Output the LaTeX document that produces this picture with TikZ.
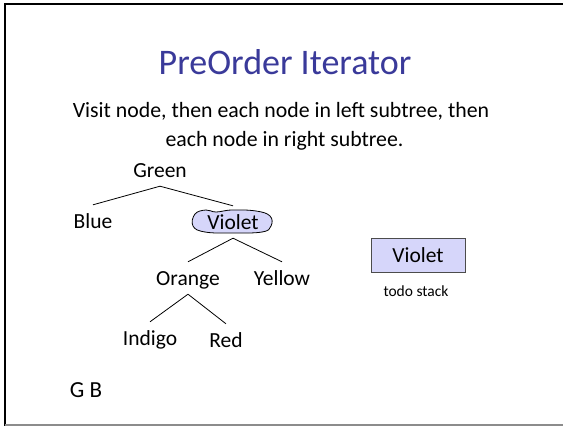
\documentclass[tikz,border=0pt]{standalone}
\usepackage{fontspec}
\setmainfont{Carlito}
\definecolor{titleblue}{RGB}{58,58,154}
\definecolor{boxfill}{RGB}{214,214,250}
\begin{document}
\begin{tikzpicture}[x=1pt,y=-1pt,
  tn/.style={font=\fontsize{21.5}{24}\selectfont, text height=14pt, text depth=0pt, inner xsep=2pt, inner ysep=9pt, anchor=base},
  body/.style={font=\fontsize{21.8}{26}\selectfont, anchor=base, inner sep=0pt},
  edge/.style={line width=0.8pt}]
\useasboundingbox (0,0) rectangle (563,426);
\fill[white] (0,0) rectangle (563,426);
\draw[line width=2pt] (5,426) -- (5,4) -- (563,4);
\draw[black!45, line width=1.5pt] (5,425) -- (563,425);
% title
\node[font=\fontsize{36}{40}\selectfont, text=titleblue, anchor=base, inner sep=0pt] (title) at (285,74) {PreOrder Iterator};
\node[body] (line1) at (281,117) {Visit node, then each node in left subtree, then};
\node[body] (line2) at (284.5,146) {each node in right subtree.};
% highlight blob
\draw[fill=boxfill, line width=0.8pt] plot[smooth cycle, tension=0.7] coordinates {(195,214) (206,210) (216,212) (232,210) (256,211) (270,216) (271,226) (262,232) (232,233) (205,232) (193,226)};
% tree
\node[tn] (green) at (160,177) {Green};
\node[tn] (blue) at (93,228) {Blue};
\node[tn] (violet) at (233,229) {Violet};
\node[tn] (orange) at (188,285) {Orange};
\node[tn] (yellow) at (282,285) {Yellow};
\node[tn] (indigo) at (150,345) {Indigo};
\node[tn] (red) at (226,347) {Red};
\draw[edge] (green.south) -- (blue.north);
\draw[edge] (green.south) -- (violet.north);
\draw[edge] (violet.south) -- (orange.north);
\draw[edge] (violet.south) -- (yellow.north);
\draw[edge] (orange.south) -- (indigo.north);
\draw[edge] (orange.south) -- (red.north);
% stack
\node[draw=black!70, fill=boxfill, line width=0.8pt, minimum width=94pt, minimum height=34pt, font=\fontsize{21.5}{24}\selectfont, text height=14pt, text depth=0pt] (stack) at (418,255) {Violet};
\node[font=\fontsize{15.5}{18}\selectfont, anchor=base, inner sep=0pt] (stacklabel) at (416,296) {todo stack};
\node[font=\fontsize{23}{26}\selectfont, anchor=base, inner sep=0pt] (visited) at (86,397) {G B};
\end{tikzpicture}
\end{document}
